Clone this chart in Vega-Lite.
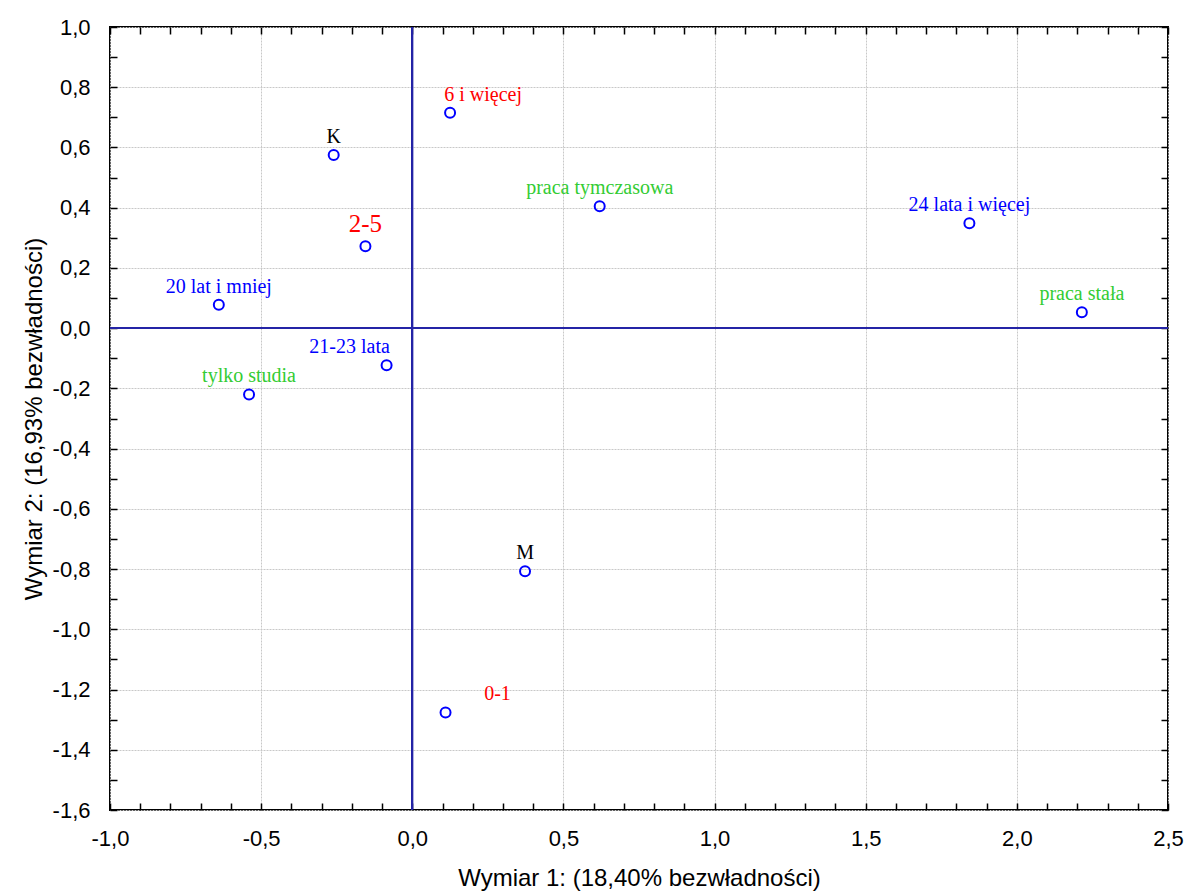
{
  "$schema": "https://vega.github.io/schema/vega-lite/v6.json",
  "autosize": "none",
  "width": 1058,
  "height": 783,
  "padding": {"left": 110, "top": 27, "right": 22, "bottom": 84},
  "background": "white",
  "config": {
    "view": {"stroke": "#000000", "strokeWidth": 2},
    "axis": {"labelFont": "Liberation Sans", "titleFont": "Liberation Sans", "labelColor": "#000", "titleColor": "#000", "titleFontWeight": "normal"}
  },
  "data": {
    "values": [
      {"label": "6 i więcej", "x": 0.125, "y": 0.715, "grupa": "staż"},
      {"label": "K", "x": -0.26, "y": 0.575, "grupa": "płeć"},
      {"label": "2-5", "x": -0.155, "y": 0.272, "grupa": "staż"},
      {"label": "praca tymczasowa", "x": 0.62, "y": 0.405, "grupa": "praca"},
      {"label": "24 lata i więcej", "x": 1.843, "y": 0.348, "grupa": "wiek"},
      {"label": "praca stała", "x": 2.215, "y": 0.053, "grupa": "praca"},
      {"label": "20 lat i mniej", "x": -0.64, "y": 0.078, "grupa": "wiek"},
      {"label": "21-23 lata", "x": -0.085, "y": -0.123, "grupa": "wiek"},
      {"label": "tylko studia", "x": -0.54, "y": -0.22, "grupa": "praca"},
      {"label": "M", "x": 0.373, "y": -0.807, "grupa": "płeć"},
      {"label": "0-1", "x": 0.11, "y": -1.276, "grupa": "staż"}
    ]
  },
  "resolve": {"axis": {"x": "independent", "y": "independent"}},
  "layer": [
    {
      "mark": {"type": "rule", "color": "#2424a6", "strokeWidth": 1.5},
      "encoding": {
        "x": {"datum": 0, "type": "quantitative", "scale": {"domain": [-1, 2.5], "nice": false, "zero": false},
          "axis": {"orient": "bottom", "values": [-1, -0.5, 0, 0.5, 1, 1.5, 2, 2.5], "grid": true, "gridColor": "#c8c8c8", "gridDash": [2, 1], "gridWidth": 1, "ticks": false, "labels": false, "domain": false, "title": null}}
      }
    },
    {
      "mark": {"type": "rule", "color": "#2424a6", "strokeWidth": 1.5},
      "encoding": {
        "y": {"datum": 0, "type": "quantitative", "scale": {"domain": [-1.6, 1.0], "nice": false, "zero": false},
          "axis": {"orient": "left", "values": [-1.6, -1.4, -1.2, -1, -0.8, -0.6, -0.4, -0.2, 0, 0.2, 0.4, 0.6, 0.8, 1.0], "grid": true, "gridColor": "#c8c8c8", "gridDash": [2, 1], "gridWidth": 1, "ticks": false, "labels": false, "domain": false, "title": null}}
      }
    },
    {
      "mark": {"type": "point", "shape": "circle", "filled": false, "color": "#0000ff", "strokeWidth": 2, "size": 100, "opacity": 1},
      "encoding": {
        "x": {"field": "x", "type": "quantitative",
          "axis": {"orient": "bottom", "title": "Wymiar 1: (18,40% bezwładności)", "titleFontSize": 24, "titlePadding": 17, "labelFontSize": 22, "labelPadding": 25, "domain": false, "grid": false, "tickSize": -7, "tickColor": "#000", "tickWidth": 1.5,
            "values": [-1.0, -0.9, -0.8, -0.7, -0.6, -0.5, -0.4, -0.3, -0.2, -0.1, 0, 0.1, 0.2, 0.3, 0.4, 0.5, 0.6, 0.7, 0.8, 0.9, 1.0, 1.1, 1.2, 1.3, 1.4, 1.5, 1.6, 1.7, 1.8, 1.9, 2.0, 2.1, 2.2, 2.3, 2.4, 2.5],
            "labelExpr": "abs(round(datum.value*10)) % 5 == 0 ? (datum.value < -0.01 ? '-' : '') + replace(format(abs(datum.value), '.1f'), '.', ',') : ''",
            "labelFlush": false, "labelOverlap": false}},
        "y": {"field": "y", "type": "quantitative",
          "axis": {"orient": "left", "title": "Wymiar 2: (16,93% bezwładności)", "titleFontSize": 24, "titlePadding": 6, "labelFontSize": 22, "labelPadding": 27, "domain": false, "grid": false, "tickSize": -7, "tickColor": "#000", "tickWidth": 1.5,
            "values": [-1.6, -1.5, -1.4, -1.3, -1.2, -1.1, -1.0, -0.9, -0.8, -0.7, -0.6, -0.5, -0.4, -0.3, -0.2, -0.1, 0, 0.1, 0.2, 0.3, 0.4, 0.5, 0.6, 0.7, 0.8, 0.9, 1.0],
            "labelExpr": "abs(round(datum.value*10)) % 2 == 0 ? (datum.value < -0.01 ? '-' : '') + replace(format(abs(datum.value), '.1f'), '.', ',') : ''",
            "labelFlush": false, "labelOverlap": false, "labelBaseline": "middle"}}
      }
    },
    {
      "transform": [{"filter": "indexof(['K','praca tymczasowa','24 lata i więcej','praca stała','20 lat i mniej','tylko studia','M'], datum.label) >= 0"}],
      "mark": {"type": "text", "font": "Liberation Serif", "fontSize": 20, "dy": -18, "align": "center", "baseline": "middle"},
      "encoding": {
        "x": {"field": "x", "type": "quantitative",
          "axis": {"orient": "top", "labels": false, "title": null, "domain": false, "grid": false, "tickSize": -7, "tickColor": "#000", "tickWidth": 1.5,
            "values": [-1.0, -0.9, -0.8, -0.7, -0.6, -0.5, -0.4, -0.3, -0.2, -0.1, 0, 0.1, 0.2, 0.3, 0.4, 0.5, 0.6, 0.7, 0.8, 0.9, 1.0, 1.1, 1.2, 1.3, 1.4, 1.5, 1.6, 1.7, 1.8, 1.9, 2.0, 2.1, 2.2, 2.3, 2.4, 2.5]}},
        "y": {"field": "y", "type": "quantitative",
          "axis": {"orient": "right", "labels": false, "title": null, "domain": false, "grid": false, "tickSize": -7, "tickColor": "#000", "tickWidth": 1.5,
            "values": [-1.6, -1.5, -1.4, -1.3, -1.2, -1.1, -1.0, -0.9, -0.8, -0.7, -0.6, -0.5, -0.4, -0.3, -0.2, -0.1, 0, 0.1, 0.2, 0.3, 0.4, 0.5, 0.6, 0.7, 0.8, 0.9, 1.0]}},
        "text": {"field": "label"},
        "color": {"field": "grupa", "type": "nominal", "scale": {"domain": ["wiek", "praca", "staż", "płeć"], "range": ["#0000ff", "#33cc33", "#ff0000", "#000000"]}, "legend": null}
      }
    },
    {
      "transform": [{"filter": "datum.label == '6 i więcej'"}],
      "mark": {"type": "text", "font": "Liberation Serif", "fontSize": 20, "dx": 33, "dy": -18, "align": "center", "baseline": "middle"},
      "encoding": {
        "x": {"field": "x", "type": "quantitative", "axis": null},
        "y": {"field": "y", "type": "quantitative", "axis": null},
        "text": {"field": "label"},
        "color": {"field": "grupa", "type": "nominal", "legend": null}
      }
    },
    {
      "transform": [{"filter": "datum.label == '21-23 lata'"}],
      "mark": {"type": "text", "font": "Liberation Serif", "fontSize": 20, "dx": -37, "dy": -18, "align": "center", "baseline": "middle"},
      "encoding": {
        "x": {"field": "x", "type": "quantitative", "axis": null},
        "y": {"field": "y", "type": "quantitative", "axis": null},
        "text": {"field": "label"},
        "color": {"field": "grupa", "type": "nominal", "legend": null}
      }
    },
    {
      "transform": [{"filter": "datum.label == '0-1'"}],
      "mark": {"type": "text", "font": "Liberation Serif", "fontSize": 20, "dx": 52, "dy": -18, "align": "center", "baseline": "middle"},
      "encoding": {
        "x": {"field": "x", "type": "quantitative", "axis": null},
        "y": {"field": "y", "type": "quantitative", "axis": null},
        "text": {"field": "label"},
        "color": {"field": "grupa", "type": "nominal", "legend": null}
      }
    },
    {
      "transform": [{"filter": "datum.label == '2-5'"}],
      "mark": {"type": "text", "font": "Liberation Serif", "fontSize": 25, "dx": 0, "dy": -22, "align": "center", "baseline": "middle"},
      "encoding": {
        "x": {"field": "x", "type": "quantitative", "axis": null},
        "y": {"field": "y", "type": "quantitative", "axis": null},
        "text": {"field": "label"},
        "color": {"field": "grupa", "type": "nominal", "legend": null}
      }
    }
  ]
}
